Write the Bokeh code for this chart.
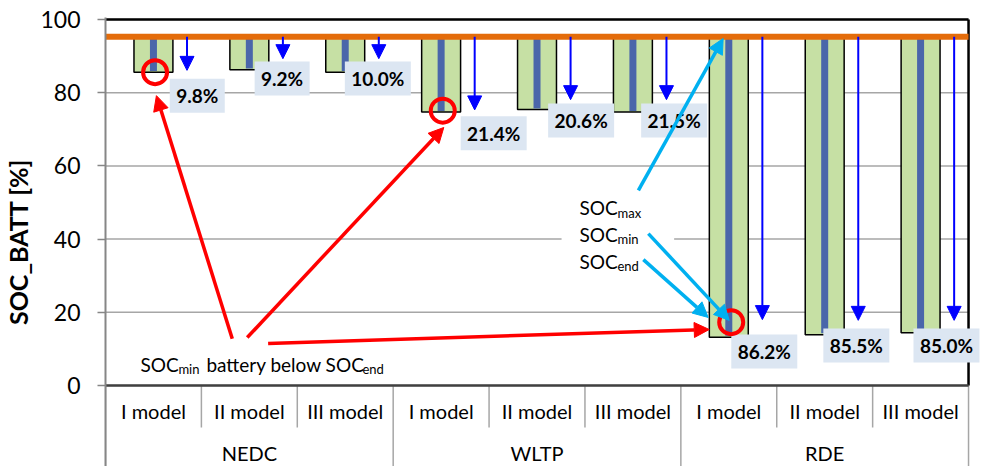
from bokeh.plotting import figure
from bokeh.models import Range1d, ColumnDataSource, Arrow, NormalHead
from bokeh.core.properties import value
from bokeh.embed import file_html
from bokeh.resources import INLINE

# ---------------- data ----------------
cycles = ["NEDC", "WLTP", "RDE"]
models = ["I model", "II model", "III model"]
soc_max = 95.3
soc_min = [85.6, 86.3, 85.6, 74.7, 75.4, 74.7, 13.2, 13.9, 14.4]
soc_end = [85.9, 86.6, 85.9, 75.0, 75.7, 75.0, 13.6, 14.3, 14.8]
arrow_tip = [86.1, 89.3, 89.3, 75.3, 78.1, 78.1, 18.0, 17.8, 17.8]
delta_soc = ["9.8%", "9.2%", "10.0%", "21.4%", "20.6%", "21.5%", "86.2%", "85.5%", "85.0%"]
y_ticks = [0, 20, 40, 60, 80, 100]

# ---------------- layout helpers ----------------
label_dx = [0.457, 0.342, 0.34, 0.548, 0.46, 0.43, 0.37, 0.33, 0.27]
label_y = [79.2, 83.9, 83.9, 68.9, 72.4, 72.4, 9.3, 10.9, 10.9]
circle_x = [0.517, 3.517, 6.525]
circle_y = [85.6, 75.1, 17.3]
red_arrows = dict(x0=[1.322, 1.478, 1.696], y0=[12.8, 13.1, 11.5],
                  x1=[0.531, 3.528, 6.296], y1=[79.2, 70.5, 15.3])
cyan_arrows = dict(x0=[5.557, 5.661, 5.609], y0=[53.3, 41.5, 34.4],
                   x1=[6.441, 6.504, 6.285], y1=[94.8, 17.8, 18.6])

FONT = value("Lato")
n = len(soc_min)
xc = [i + 0.5 for i in range(n)]

W, H = 982, 466
MB_L, MB_T = 103, 17
PX_X = 865 / 9          # pixels per category slot
PX_Y = 3.66             # pixels per SOC unit
frame_w = W - MB_L
frame_h = H - MB_T
x_end = frame_w / PX_X
y_top = 100 + 2 / PX_Y
y_low = y_top - frame_h / PX_Y

p = figure(width=W, height=H, x_range=Range1d(0, x_end), y_range=Range1d(y_low, y_top),
           x_axis_type=None, output_backend="svg", toolbar_location=None,
           min_border_left=MB_L, min_border_right=0, min_border_top=MB_T, min_border_bottom=0)
p.outline_line_color = None
p.ygrid.visible = False
p.yaxis.ticker = y_ticks
p.yaxis.axis_label = "SOC_BATT [%]"
p.yaxis.axis_label_text_font = "Lato"
p.yaxis.axis_label_text_font_style = "bold"
p.yaxis.axis_label_text_font_size = "25px"
p.yaxis.axis_label_text_color = "black"
p.yaxis.axis_label_standoff = 4
p.yaxis.major_label_text_font = "Lato"
p.yaxis.major_label_text_font_size = "23px"
p.yaxis.major_label_text_color = "black"
p.yaxis.major_label_standoff = 17
p.yaxis.axis_line_color = "#868686"
p.yaxis.axis_line_width = 2
p.yaxis.major_tick_line_color = "#868686"
p.yaxis.major_tick_line_width = 1.5
p.yaxis.major_tick_out = 8
p.yaxis.major_tick_in = 0
p.yaxis.minor_tick_line_color = None

# horizontal grid lines inside the plot area only
p.segment(x0=[0] * len(y_ticks), x1=[9] * len(y_ticks), y0=y_ticks, y1=y_ticks,
          line_color="#a6a6a6", line_width=1.5)

# category strip under the plot area
grp_x = [3 * g for g in range(len(cycles) + 1)]
sub_x = [3 * g + k for g in range(len(cycles)) for k in (1, 2)]
p.segment(x0=grp_x, x1=grp_x, y0=[y_low] * len(grp_x), y1=[0] * len(grp_x),
          line_color="#a6a6a6", line_width=1.5)
p.segment(x0=sub_x, x1=sub_x, y0=[-42 / PX_Y] * len(sub_x), y1=[0] * len(sub_x),
          line_color="#a6a6a6", line_width=1.5)
p.text(x=xc, y=[-25 / PX_Y] * n, text=[models[i % 3] for i in range(n)], text_font=FONT,
       text_font_size="20px", text_align="center", text_baseline="middle", text_color="black")
p.text(x=[3 * g + 1.5 for g in range(len(cycles))], y=[-67 / PX_Y] * len(cycles),
       text=cycles, text_font=FONT, text_font_size="20px", text_align="center",
       text_baseline="middle", text_color="black")

# bars
p.vbar(x=xc, top=[soc_max] * n, bottom=soc_min, width=0.406,
       fill_color="#c6e0a4", line_color="black", line_width=1.5)
p.vbar(x=xc, top=[soc_max] * n, bottom=soc_end, width=0.073,
       fill_color="#4a66aa", line_color=None)

# plot frame (top, right, bottom)
p.segment(x0=[0, 9, 0], y0=[100, 0, 0], x1=[9, 9, 9], y1=[100, 100, 0],
          line_color=["black", "black", "#404040"], line_width=2.5)

# SOC max line
p.segment(x0=[0], y0=[soc_max], x1=[9], y1=[soc_max], line_color="#e46c0a", line_width=6)

# blue arrows
bsrc = ColumnDataSource(dict(x0=[x + 0.35 for x in xc], y0=[soc_max] * n,
                             x1=[x + 0.35 for x in xc], y1=arrow_tip))
p.add_layout(Arrow(source=bsrc, x_start="x0", y_start="y0", x_end="x1", y_end="y1",
                   line_color="#0000ff", line_width=2,
                   end=NormalHead(size=14, fill_color="#0000ff", line_color="#0000ff")))

# delta labels
lx = [xc[i] + label_dx[i] for i in range(n)]
lw = [11 * len(t) + 11 for t in delta_soc]
p.rect(x=lx, y=label_y, width=lw, height=[34] * n, width_units="screen",
       height_units="screen", fill_color="#dce6f2", line_color=None)
p.text(x=lx, y=label_y, text=delta_soc, text_font=FONT, text_font_style="bold",
       text_font_size="19px", text_align="center", text_baseline="middle", text_color="black")

# SOC legend-like annotation
p.quad(left=[4.756], right=[5.93], bottom=[31.8], top=[54.5], fill_color="white", line_color=None)
soc_names = ["max", "min", "end"]
soc_base = [48.6, 41.3, 34.0]
p.text(x=[4.943] * 3, y=soc_base, text=["SOC"] * 3, text_font=FONT, text_font_size="19px",
       text_align="left", text_baseline="alphabetic", text_color="black")
p.text(x=[4.943] * 3, y=soc_base, text=soc_names, text_font=FONT, text_font_size="13px",
       text_align="left", text_baseline="alphabetic", text_color="black", x_offset=38, y_offset=5)

# bottom note: SOC_min battery below SOC_end
nx, ny = 0.364, 5.75
p.text(x=[nx, nx], y=[ny, ny], text=["SOC", "battery below SOC"], x_offset=[0, 66],
       text_font=FONT, text_font_size="19px", text_align="left", text_baseline="alphabetic",
       text_color="black")
p.text(x=[nx, nx], y=[ny, ny], text=["min", "end"], x_offset=[38, 222], y_offset=5,
       text_font=FONT, text_font_size="13px", text_align="left", text_baseline="alphabetic",
       text_color="black")

# red circles
p.scatter(x=circle_x, y=circle_y, size=24, marker="circle", fill_color=None,
          line_color="#ff0000", line_width=4)

# cyan and red arrows
p.add_layout(Arrow(source=ColumnDataSource(cyan_arrows), x_start="x0", y_start="y0",
                   x_end="x1", y_end="y1", line_color="#00b0f0", line_width=3.5,
                   end=NormalHead(size=15, fill_color="#00b0f0", line_color="#00b0f0")))
p.add_layout(Arrow(source=ColumnDataSource(red_arrows), x_start="x0", y_start="y0",
                   x_end="x1", y_end="y1", line_color="#ff0000", line_width=3.5,
                   end=NormalHead(size=15, fill_color="#ff0000", line_color="#ff0000")))

open("out.html", "w").write(file_html(p, INLINE))
